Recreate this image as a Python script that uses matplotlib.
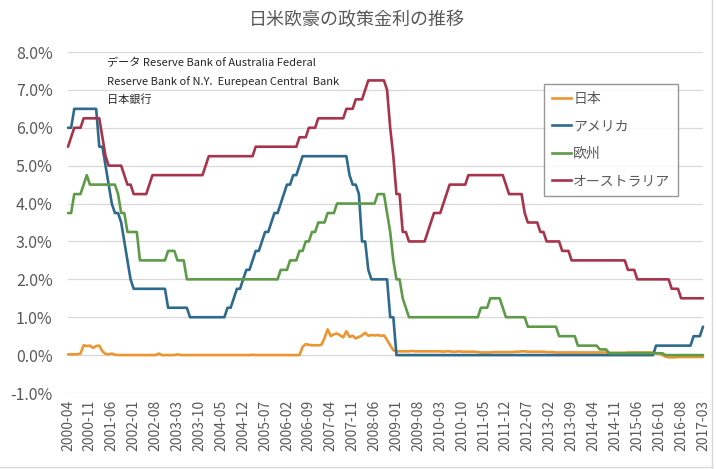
import matplotlib
matplotlib.use("Agg")
import matplotlib.pyplot as plt
from matplotlib.lines import Line2D

plt.rcParams['font.family'] = ['Noto Sans CJK JP', 'DejaVu Sans']

# ---------------- data (monthly, 2000-04 .. 2017-03) ----------------
tick_labels = ["2000-04", "2000-11", "2001-06", "2002-01", "2002-08", "2003-03",
               "2003-10", "2004-05", "2004-12", "2005-07", "2006-02", "2006-09",
               "2007-04", "2007-11", "2008-06", "2009-01", "2009-08", "2010-03",
               "2010-10", "2011-05", "2011-12", "2012-07", "2013-02", "2013-09",
               "2014-04", "2014-11", "2015-06", "2016-01", "2016-08", "2017-03"]

series_names = ["日本", "アメリカ", "欧州", "オーストラリア"]

japan = [
    0.02, 0.02, 0.02, 0.02, 0.04, 0.26, 0.24, 0.25, 0.19,                              # 2000 Apr-Dec
    0.24, 0.25, 0.10, 0.03, 0.02, 0.04, 0.01, 0.002, 0.002, 0.002, 0.002, 0.002,        # 2001
    0.001, 0.001, 0.001, 0.001, 0.001, 0.001, 0.001, 0.001, 0.04, 0.001, 0.001, 0.001,  # 2002
    0.001, 0.001, 0.02, 0.001, 0.001, 0.001, 0.001, 0.001, 0.001, 0.001, 0.001, 0.001,  # 2003
    0.001, 0.001, 0.001, 0.001, 0.001, 0.001, 0.001, 0.001, 0.001, 0.001, 0.001, 0.001, # 2004
    0.001, 0.001, 0.01, 0.001, 0.001, 0.001, 0.001, 0.001, 0.001, 0.001, 0.001, 0.001,  # 2005
    0.001, 0.001, 0.001, 0.001, 0.001, 0.001, 0.22, 0.29, 0.27, 0.26, 0.26, 0.26,       # 2006
    0.27, 0.45, 0.68, 0.50, 0.55, 0.57, 0.52, 0.47, 0.63, 0.48, 0.51, 0.44,             # 2007
    0.48, 0.52, 0.59, 0.51, 0.53, 0.52, 0.53, 0.51, 0.52, 0.40, 0.26, 0.13,             # 2008
    0.10, 0.10, 0.10, 0.10, 0.10, 0.11, 0.10, 0.10, 0.10, 0.10, 0.10, 0.10,             # 2009
    0.10, 0.10, 0.10, 0.09, 0.10, 0.10, 0.09, 0.09, 0.10, 0.09, 0.09, 0.09,             # 2010
    0.09, 0.09, 0.08, 0.07, 0.07, 0.07, 0.07, 0.08, 0.08, 0.08, 0.08, 0.08,             # 2011
    0.08, 0.08, 0.09, 0.09, 0.10, 0.10, 0.09, 0.09, 0.09, 0.09, 0.09, 0.09,             # 2012
    0.08, 0.08, 0.08, 0.07, 0.07, 0.07, 0.07, 0.07, 0.07, 0.07, 0.07, 0.07,             # 2013
    0.07, 0.07, 0.07, 0.07, 0.07, 0.07, 0.07, 0.07, 0.06, 0.06, 0.06, 0.06,             # 2014
    0.06, 0.06, 0.07, 0.07, 0.07, 0.07, 0.07, 0.07, 0.07, 0.07, 0.06, 0.05,             # 2015
    0.04, 0.00, -0.04, -0.06, -0.06, -0.06, -0.05, -0.05, -0.05, -0.05, -0.05, -0.05,   # 2016
    -0.05, -0.05, -0.05,                                                                 # 2017 Jan-Mar
]

usa = [
    6.0, 6.0, 6.5, 6.5, 6.5, 6.5, 6.5, 6.5, 6.5,
    6.5, 5.5, 5.5, 5.0, 4.5, 4.0, 3.75, 3.75, 3.5, 3.0, 2.5, 2.0,
    1.75, 1.75, 1.75, 1.75, 1.75, 1.75, 1.75, 1.75, 1.75, 1.75, 1.75, 1.25,
    1.25, 1.25, 1.25, 1.25, 1.25, 1.25, 1.0, 1.0, 1.0, 1.0, 1.0, 1.0,
    1.0, 1.0, 1.0, 1.0, 1.0, 1.0, 1.25, 1.25, 1.5, 1.75, 1.75, 2.0,
    2.25, 2.25, 2.5, 2.75, 2.75, 3.0, 3.25, 3.25, 3.5, 3.75, 3.75, 4.0,
    4.25, 4.5, 4.5, 4.75, 4.75, 5.0, 5.25, 5.25, 5.25, 5.25, 5.25, 5.25,
    5.25, 5.25, 5.25, 5.25, 5.25, 5.25, 5.25, 5.25, 5.25, 4.75, 4.5, 4.5,
    4.25, 3.0, 3.0, 2.25, 2.0, 2.0, 2.0, 2.0, 2.0, 2.0, 1.0, 1.0,
    0.0, 0.0, 0.0, 0.0, 0.0, 0.0, 0.0, 0.0, 0.0, 0.0, 0.0, 0.0,
    0.0, 0.0, 0.0, 0.0, 0.0, 0.0, 0.0, 0.0, 0.0, 0.0, 0.0, 0.0,
    0.0, 0.0, 0.0, 0.0, 0.0, 0.0, 0.0, 0.0, 0.0, 0.0, 0.0, 0.0,
    0.0, 0.0, 0.0, 0.0, 0.0, 0.0, 0.0, 0.0, 0.0, 0.0, 0.0, 0.0,
    0.0, 0.0, 0.0, 0.0, 0.0, 0.0, 0.0, 0.0, 0.0, 0.0, 0.0, 0.0,
    0.0, 0.0, 0.0, 0.0, 0.0, 0.0, 0.0, 0.0, 0.0, 0.0, 0.0, 0.0,
    0.0, 0.0, 0.0, 0.0, 0.0, 0.0, 0.0, 0.0, 0.0, 0.0, 0.0, 0.25,
    0.25, 0.25, 0.25, 0.25, 0.25, 0.25, 0.25, 0.25, 0.25, 0.25, 0.25, 0.5,
    0.5, 0.5, 0.75,
]

europe = [
    3.75, 3.75, 4.25, 4.25, 4.25, 4.5, 4.75, 4.5, 4.5,
    4.5, 4.5, 4.5, 4.5, 4.5, 4.5, 4.5, 4.25, 3.75, 3.75, 3.25, 3.25,
    3.25, 3.25, 2.5, 2.5, 2.5, 2.5, 2.5, 2.5, 2.5, 2.5, 2.5, 2.75,
    2.75, 2.75, 2.5, 2.5, 2.5, 2.0, 2.0, 2.0, 2.0, 2.0, 2.0, 2.0,
    2.0, 2.0, 2.0, 2.0, 2.0, 2.0, 2.0, 2.0, 2.0, 2.0, 2.0, 2.0,
    2.0, 2.0, 2.0, 2.0, 2.0, 2.0, 2.0, 2.0, 2.0, 2.0, 2.0, 2.25,
    2.25, 2.25, 2.5, 2.5, 2.5, 2.75, 2.75, 3.0, 3.0, 3.25, 3.25, 3.5,
    3.5, 3.5, 3.75, 3.75, 3.75, 4.0, 4.0, 4.0, 4.0, 4.0, 4.0, 4.0,
    4.0, 4.0, 4.0, 4.0, 4.0, 4.0, 4.25, 4.25, 4.25, 3.75, 3.25, 2.5,
    2.0, 2.0, 1.5, 1.25, 1.0, 1.0, 1.0, 1.0, 1.0, 1.0, 1.0, 1.0,
    1.0, 1.0, 1.0, 1.0, 1.0, 1.0, 1.0, 1.0, 1.0, 1.0, 1.0, 1.0,
    1.0, 1.0, 1.0, 1.25, 1.25, 1.25, 1.5, 1.5, 1.5, 1.5, 1.25, 1.0,
    1.0, 1.0, 1.0, 1.0, 1.0, 1.0, 0.75, 0.75, 0.75, 0.75, 0.75, 0.75,
    0.75, 0.75, 0.75, 0.75, 0.5, 0.5, 0.5, 0.5, 0.5, 0.5, 0.25, 0.25,
    0.25, 0.25, 0.25, 0.25, 0.25, 0.15, 0.15, 0.15, 0.05, 0.05, 0.05, 0.05,
    0.05, 0.05, 0.05, 0.05, 0.05, 0.05, 0.05, 0.05, 0.05, 0.05, 0.05, 0.05,
    0.05, 0.05, 0.0, 0.0, 0.0, 0.0, 0.0, 0.0, 0.0, 0.0, 0.0, 0.0,
    0.0, 0.0, 0.0,
]

australia = [
    5.5, 5.75, 6.0, 6.0, 6.0, 6.25, 6.25, 6.25, 6.25,
    6.25, 6.25, 5.75, 5.25, 5.0, 5.0, 5.0, 5.0, 5.0, 4.75, 4.5, 4.5,
    4.25, 4.25, 4.25, 4.25, 4.25, 4.5, 4.75, 4.75, 4.75, 4.75, 4.75, 4.75,
    4.75, 4.75, 4.75, 4.75, 4.75, 4.75, 4.75, 4.75, 4.75, 4.75, 4.75, 5.0,
    5.25, 5.25, 5.25, 5.25, 5.25, 5.25, 5.25, 5.25, 5.25, 5.25, 5.25, 5.25,
    5.25, 5.25, 5.25, 5.5, 5.5, 5.5, 5.5, 5.5, 5.5, 5.5, 5.5, 5.5,
    5.5, 5.5, 5.5, 5.5, 5.5, 5.75, 5.75, 5.75, 6.0, 6.0, 6.0, 6.25,
    6.25, 6.25, 6.25, 6.25, 6.25, 6.25, 6.25, 6.25, 6.5, 6.5, 6.5, 6.75,
    6.75, 6.75, 7.0, 7.25, 7.25, 7.25, 7.25, 7.25, 7.25, 7.0, 6.0, 5.25,
    4.25, 4.25, 3.25, 3.25, 3.0, 3.0, 3.0, 3.0, 3.0, 3.0, 3.25, 3.5,
    3.75, 3.75, 3.75, 4.0, 4.25, 4.5, 4.5, 4.5, 4.5, 4.5, 4.5, 4.75,
    4.75, 4.75, 4.75, 4.75, 4.75, 4.75, 4.75, 4.75, 4.75, 4.75, 4.75, 4.5,
    4.25, 4.25, 4.25, 4.25, 4.25, 3.75, 3.5, 3.5, 3.5, 3.5, 3.25, 3.25,
    3.0, 3.0, 3.0, 3.0, 3.0, 2.75, 2.75, 2.75, 2.5, 2.5, 2.5, 2.5,
    2.5, 2.5, 2.5, 2.5, 2.5, 2.5, 2.5, 2.5, 2.5, 2.5, 2.5, 2.5,
    2.5, 2.5, 2.25, 2.25, 2.25, 2.0, 2.0, 2.0, 2.0, 2.0, 2.0, 2.0,
    2.0, 2.0, 2.0, 2.0, 1.75, 1.75, 1.75, 1.5, 1.5, 1.5, 1.5, 1.5,
    1.5, 1.5, 1.5,
]

y_ticks = [-1, 0, 1, 2, 3, 4, 5, 6, 7, 8]

note_lines = ["データ Reserve Bank of Australia Federal",
              "Reserve Bank of N.Y.  Eurepean Central  Bank",
              "日本銀行"]
title = "日米欧豪の政策金利の推移"

colors = ["#EC9531", "#2E6A8E", "#5E9B48", "#A7344A"]

# ---------------- figure ----------------
W, H = 716, 469
fig = plt.figure(figsize=(W / 100, H / 100), dpi=100)
fig.patch.set_facecolor("white")

left, right, top, bottom = 68, 703, 52, 393
ax = fig.add_axes([left / W, 1 - bottom / H, (right - left) / W, (bottom - top) / H])

series = [japan, usa, europe, australia]
x = list(range(len(japan)))
for vals, c, name in zip(series, colors, series_names):
    ax.plot(x, vals, color=c, lw=1.9, label=name, solid_joinstyle="round",
            solid_capstyle="round", clip_on=False)

ax.set_xlim(0, len(japan) - 1)
ax.set_ylim(-1, 8)
ax.set_yticks(y_ticks)
ax.set_yticklabels([f"{v:.1f}%" for v in y_ticks])

def month_index(lbl):
    y, m = lbl.split("-")
    return (int(y) - 2000) * 12 + int(m) - 4

ax.set_xticks([month_index(l) for l in tick_labels])
ax.set_xticklabels(tick_labels, rotation=90)

ax.grid(axis="y", color="#D9D9D9", lw=0.9)
ax.set_axisbelow(True)
for s in ax.spines.values():
    s.set_visible(False)
ax.tick_params(axis="y", length=0, pad=11, labelsize=11.5, labelcolor="#595959")
ax.tick_params(axis="x", length=0, pad=5, labelsize=10, labelcolor="#595959")

fig.text(357 / W, 1 - 20 / H, title, ha="center", va="center", fontsize=13, color="#595959")

for i, line in enumerate(note_lines):
    fig.text(107 / W, 1 - (63 + 18.5 * i) / H, line, ha="left", va="center",
             fontsize=8, color="#262626")

handles = [Line2D([], [], color=c, lw=1.9) for c in colors]
leg = fig.legend(handles, series_names, loc="upper left",
                 bbox_to_anchor=(544 / W, 1 - 84 / H), bbox_transform=fig.transFigure,
                 borderaxespad=0, frameon=True, fancybox=False, fontsize=10,
                 handlelength=1.4, handletextpad=0.15, labelspacing=0.97,
                 borderpad=0.55, labelcolor="#595959")
leg.get_frame().set_edgecolor("#7F7F7F")
leg.get_frame().set_linewidth(1.0)

# chart-area outline (right and bottom visible in the reference)
fig.add_artist(Line2D([711.5 / W, 711.5 / W], [0, 1], color="#D9D9D9", lw=1,
                      transform=fig.transFigure))
fig.add_artist(Line2D([0, 711.5 / W], [2.5 / H, 2.5 / H], color="#D9D9D9", lw=1,
                      transform=fig.transFigure))

fig.savefig("out.png", dpi=100)
